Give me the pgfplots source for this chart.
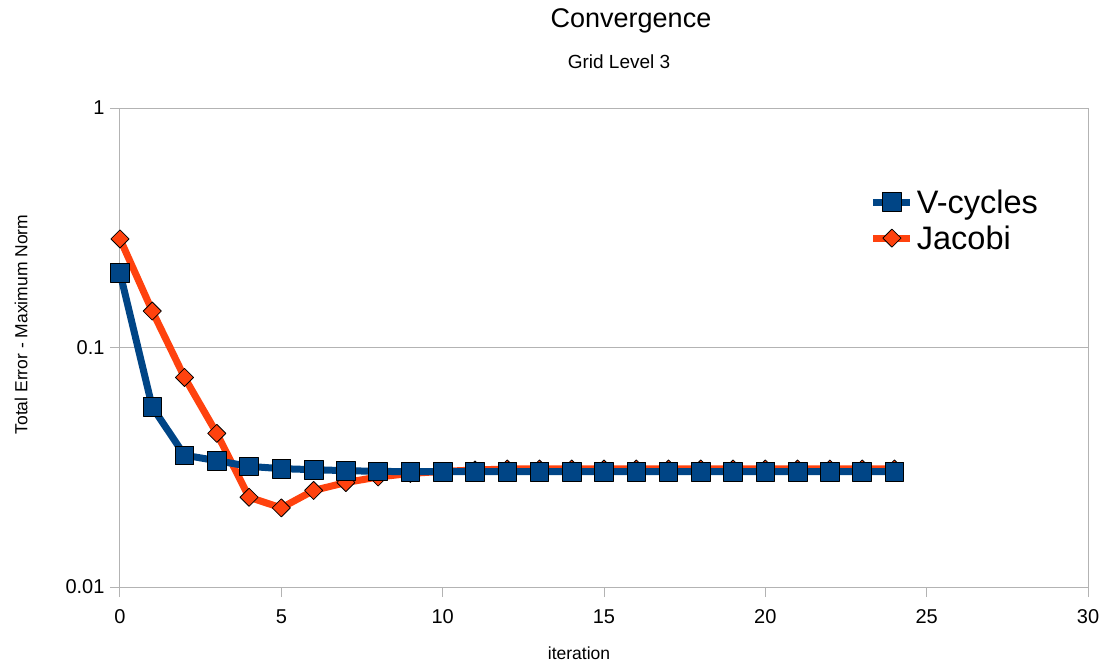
\documentclass[border=0pt]{standalone}
\usepackage{pgfplots}
\pgfplotsset{compat=1.18}
\usepackage{fontspec}
\setmainfont{Liberation Sans}

\definecolor{vblue}{HTML}{004586}
\definecolor{jorange}{HTML}{FF420E}
\definecolor{gridgray}{HTML}{B3B3B3}

\begin{document}
\begin{tikzpicture}
\begin{axis}[
  name=ax,
  scale only axis, width=968pt, height=479pt,
  xmin=0, xmax=30, ymin=0.01, ymax=1, ymode=log,
  xtick={0,5,...,30},
  ytick={0.01,0.1,1}, yticklabels={0.01,0.1,1},
  xminorticks=false, yminorticks=false,
  ymajorgrids,
  major grid style={gridgray, line width=1pt},
  axis line style={gridgray, line width=1pt},
  tick style={gridgray, line width=1pt},
  major tick length=10pt, tick align=outside, tick pos=left,
  ticklabel style={font=\fontsize{20}{24}\selectfont, text=black},
  /pgf/number format/assume math mode=true,
  xticklabel style={yshift=-9pt},
  yticklabel style={xshift=-2pt},
  clip=false,
  reverse legend,
  legend style={draw=none, fill=none, at={(0.7745,0.766)}, anchor=west,
    inner sep=0pt, row sep=11pt, font=\fontsize{32.5}{38}\selectfont,
    cells={anchor=west}, nodes={inner sep=0pt},
    /tikz/every odd column/.append style={column sep=3pt}},
  legend image code/.code={\draw[mark repeat=2,mark phase=2,#1]
    plot coordinates {(0pt,0pt) (18.5pt,0pt) (37pt,0pt)};},
]
% Jacobi smoothing iterations
\addplot[jorange, line width=7pt, line join=round,
  mark=square*, mark size=6.4pt,
  mark options={rotate=45, fill=jorange, draw=black, line width=0.8pt}]
  coordinates {
  (0,0.284) (1,0.142) (2,0.075) (3,0.0438) (4,0.0237) (5,0.0214)
  (6,0.0253) (7,0.0273) (8,0.0288) (9,0.0298) (10,0.0304) (11,0.0308)
  (12,0.0311) (13,0.0311) (14,0.0311) (15,0.0311) (16,0.0311) (17,0.0311)
  (18,0.0311) (19,0.0311) (20,0.0311) (21,0.0311) (22,0.0311) (23,0.0311)
  (24,0.0311)};
\addlegendentry{Jacobi}
% multigrid V-cycles
\addplot[vblue, line width=7pt, line join=round,
  mark=square*, mark size=9.3pt,
  mark options={fill=vblue, draw=black, line width=0.8pt}]
  coordinates {
  (0,0.205) (1,0.0564) (2,0.0355) (3,0.0337) (4,0.0319) (5,0.0312)
  (6,0.0309) (7,0.0306) (8,0.0304) (9,0.0303) (10,0.0303) (11,0.0303)
  (12,0.0303) (13,0.0303) (14,0.0303) (15,0.0303) (16,0.0303) (17,0.0303)
  (18,0.0303) (19,0.0303) (20,0.0303) (21,0.0303) (22,0.0303) (23,0.0303)
  (24,0.0303)};
\addlegendentry{V-cycles}
\end{axis}
\node[font=\fontsize{27}{32}\selectfont, anchor=base]
  at ([xshift=511pt,yshift=80pt]ax.north west) {Convergence};
\node[font=\fontsize{19}{23}\selectfont, anchor=base]
  at ([xshift=499pt,yshift=39pt]ax.north west) {Grid Level 3};
\node[font=\fontsize{17.5}{21}\selectfont, rotate=90, anchor=center]
  at ([xshift=-99pt,yshift=-216.5pt]ax.north west) {Total Error - Maximum Norm};
\node[font=\fontsize{17.5}{21}\selectfont, anchor=base]
  at ([xshift=459pt,yshift=-73pt]ax.south west) {iteration};
\pgfresetboundingbox
\path[use as bounding box] ([xshift=-120pt,yshift=-79pt]ax.south west)
  rectangle ([xshift=15pt,yshift=108pt]ax.north east);
\end{tikzpicture}
\end{document}
